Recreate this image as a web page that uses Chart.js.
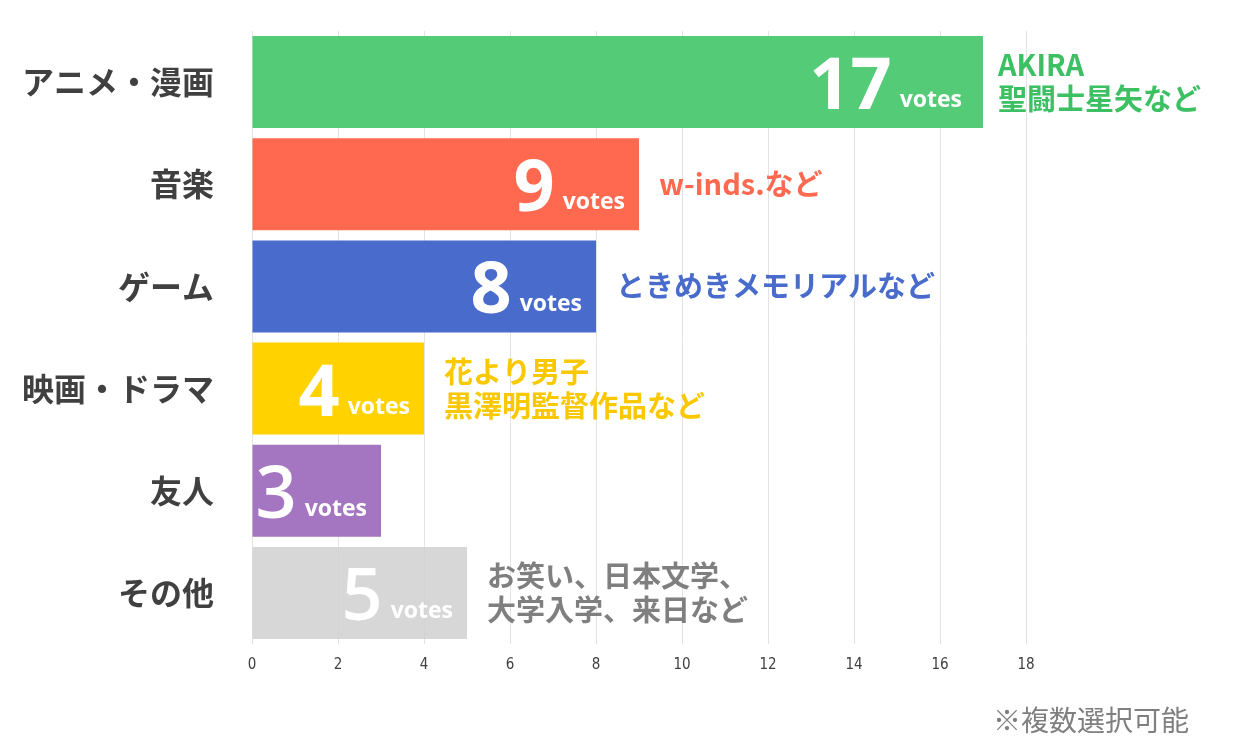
<!DOCTYPE html>
<html>
<head>
<meta charset="utf-8">
<script src="https://cdn.jsdelivr.net/npm/chart.js@4"></script>
<style>
  html, body { margin: 0; padding: 0; background: #fff; }
  #wrap { width: 1240px; height: 748px; position: relative; }
</style>
</head>
<body>
<div id="wrap"><canvas id="chart" width="1240" height="748"></canvas></div>
<script>
'use strict';
// データ
const categories = ['アニメ・漫画', '音楽', 'ゲーム', '映画・ドラマ', '友人', 'その他'];
const votes = [17, 9, 8, 4, 3, 5];
const notes = [
  ['AKIRA', '聖闘士星矢など'],
  ['w-inds.など'],
  ['ときめきメモリアルなど'],
  ['花より男子', '黒澤明監督作品など'],
  [],
  ['お笑い、日本文学、', '大学入学、来日など'],
];
const xMax = 18;
const xStep = 2;
const footnote = '※複数選択可能';

// 色
const barColors = ['rgba(72,200,110,0.94)', '#FF6950', '#486BCC', '#FFD200', '#A475C0', 'rgba(210,210,210,0.88)'];
const noteColors = ['#3DC063', '#FF6950', '#486BCC', '#F9C800', '#A475C0', '#7F7F7F'];

const JP = '"Noto Sans CJK JP", "Noto Sans", sans-serif';

// 棒の中の数値と右側の注記を描く
const labelPlugin = {
  id: 'labels',
  afterDatasetsDraw(chart) {
    const ctx = chart.ctx;
    const meta = chart.getDatasetMeta(0);
    ctx.save();
    meta.data.forEach((bar, i) => {
      const right = bar.x;
      const cy = bar.y;
      // votes
      ctx.fillStyle = '#fff';
      ctx.textBaseline = 'alphabetic';
      ctx.textAlign = 'right';
      ctx.font = 'bold 23px "Open Sans", sans-serif';
      const vw = ctx.measureText('votes').width;
      const xEnd = right - (i === 0 ? 21 : 14);
      ctx.fillText('votes', xEnd, cy + 25);
      ctx.font = (i >= 4 ? '600' : 'bold') + ' 72px "Open Sans", sans-serif';
      ctx.fillText(String(votes[i]), xEnd - vw - 8, cy + 27);
      // 注記
      const lines = notes[i];
      ctx.font = 'bold 29px ' + JP;
      ctx.fillStyle = noteColors[i];
      ctx.textAlign = 'left';
      ctx.textBaseline = 'middle';
      const lh = 34;
      const startY = cy - (lines.length - 1) * lh / 2;
      lines.forEach((t, k) => {
        ctx.fillText(t, right + (i === 0 ? 15 : 20), startY + k * lh);
      });
    });
    // 注釈
    ctx.font = '28px ' + JP;
    ctx.fillStyle = '#7F7F7F';
    ctx.textAlign = 'right';
    ctx.textBaseline = 'middle';
    ctx.fillText(footnote, 1189, 720);
    ctx.restore();
  },
};

new Chart(document.getElementById('chart'), {
  type: 'bar',
  data: {
    labels: categories,
    datasets: [{
      data: votes,
      backgroundColor: barColors,
      borderWidth: 0,
      categoryPercentage: 1,
      barPercentage: 0.9,
    }],
  },
  options: {
    indexAxis: 'y',
    responsive: false,
    animation: false,
    layout: { padding: { top: 31, right: 214, left: 0, bottom: 0 } },
    plugins: {
      legend: { display: false },
      tooltip: { enabled: false },
    },
    scales: {
      x: {
        min: 0,
        max: xMax,
        afterFit(axis) { axis.height = 104; axis.paddingLeft = 0; axis.paddingRight = 0; },
        border: { display: false },
        grid: { color: '#E3E3E3', drawTicks: false, lineWidth: 1 },
        ticks: {
          stepSize: xStep,
          padding: 12,
          color: '#404040',
          font: { family: '"Liberation Sans Narrow", "DejaVu Sans Condensed", sans-serif', size: 15 },
        },
      },
      y: {
        afterFit(axis) { axis.width = 252; axis.paddingTop = 0; axis.paddingBottom = 0; },
        border: { display: false },
        grid: { display: false, drawTicks: false },
        ticks: {
          padding: 38,
          color: '#404040',
          font: { family: JP, size: 32, weight: 'bold' },
        },
      },
    },
  },
  plugins: [labelPlugin],
});
</script>
</body>
</html>
